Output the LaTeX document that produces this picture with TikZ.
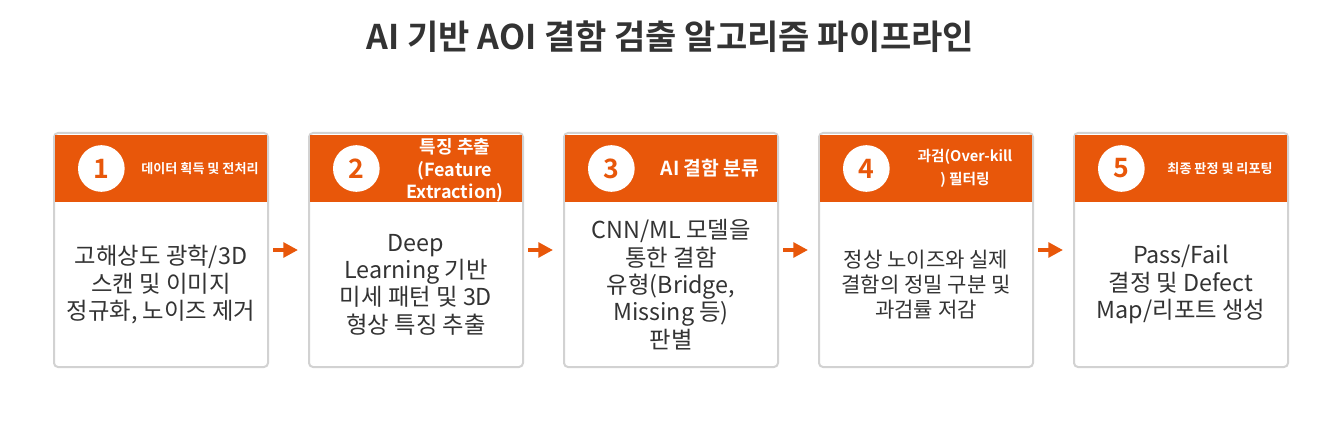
\documentclass[tikz,border=0pt]{standalone}
\usepackage{fontspec}
\setmainfont{Noto Sans CJK KR}[BoldFont={Noto Sans CJK KR Bold}]
\usetikzlibrary{arrows.meta}
\usetikzlibrary{positioning}

\definecolor{accent}{HTML}{E8570A}
\definecolor{cardline}{HTML}{D2D2D2}
\definecolor{ink}{HTML}{333333}

\begin{document}
\begin{tikzpicture}[
  x=0.75pt, y=-0.75pt,
  card/.style={draw=cardline,line width=1.5pt,rounded corners=3pt,fill=white,
    minimum width=160.5pt,minimum height=175.5pt,inner sep=0,outer sep=0},
  head/.style={fill=accent,minimum width=158.5pt,minimum height=50.25pt,inner sep=0,outer sep=0},
  badge/.style={circle,fill=white,minimum size=35pt,inner sep=0,text=accent,
    font=\bfseries\fontsize{20}{20}\selectfont},
  headtxt/.style 2 args={text=white,align=center,inner sep=0,font=\bfseries\fontsize{#1}{#2}\selectfont},
  body/.style={text=ink,align=center,inner sep=0,font=\fontsize{17.5}{20.5}\selectfont},
  flow/.style={-{Triangle[length=11pt,width=11pt]},accent,line width=3.4pt,
    shorten <=3.75pt,shorten >=8.25pt}]

  \useasboundingbox[fill=white] (0,0) rectangle (1341,424);

  % title
  \node[text=ink,font=\bfseries\fontsize{25.5}{25.5}\selectfont] (title) at (670.5,37)
    {AI 기반 AOI 결함 검출 알고리즘 파이프라인};

  % the five cards
  \node[card] (c1) at (161,250) {};
  \node[card,right=30.75pt of c1] (c2) {};
  \node[card,right=30.75pt of c2] (c3) {};
  \node[card,right=30.75pt of c3] (c4) {};
  \node[card,right=30.75pt of c4] (c5) {};

  % orange heads with step numbers
  \foreach \i in {1,...,5}{
    \node[head,below=1.5pt of c\i.north] (h\i) {};
    \node[badge] (b\i) at ([xshift=34.5pt]h\i.west) {\i};
  }

  \node[headtxt={9.8}{13}] (t1) at ([xshift=29.25pt]h1.center) {데이터 획득 및 전처리};
  \node[headtxt={13.5}{17}] (t2) at ([xshift=29.25pt,yshift=-1.5pt]h2.center) {특징 추출\\(Feature\\Extraction)};
  \node[headtxt={14.5}{17}] (t3) at ([xshift=29.25pt]h3.center) {AI 결함 분류};
  \node[headtxt={11}{17}] (t4) at ([xshift=29.25pt]h4.center) {과검(Over-kill\\) 필터링};
  \node[headtxt={9.8}{13}] (t5) at ([xshift=29.25pt]h5.center) {최종 판정 및 리포팅};

  % card texts
  \node[body] (d1) at ([yshift=-25.9pt]c1.center) {고해상도 광학/3D\\스캔 및 이미지\\정규화, 노이즈 제거};
  \node[body] (d2) at ([yshift=-25.9pt]c2.center) {Deep\\Learning 기반\\미세 패턴 및 3D\\형상 특징 추출};
  \node[body] (d3) at ([yshift=-25.9pt]c3.center) {CNN/ML 모델을\\통한 결함\\유형(Bridge,\\Missing 등)\\판별};
  \node[body,font=\fontsize{15.8}{19}\selectfont] (d4) at ([yshift=-25.9pt]c4.center)
    {정상 노이즈와 실제\\결함의 정밀 구분 및\\과검률 저감};
  \node[body] (d5) at ([yshift=-25.9pt]c5.center) {Pass/Fail\\결정 및 Defect\\Map/리포트 생성};

  % arrows between cards
  \draw[flow] (c1.east) -- (c2.west);
  \draw[flow] (c2.east) -- (c3.west);
  \draw[flow] (c3.east) -- (c4.west);
  \draw[flow] (c4.east) -- (c5.west);
\end{tikzpicture}
\end{document}
